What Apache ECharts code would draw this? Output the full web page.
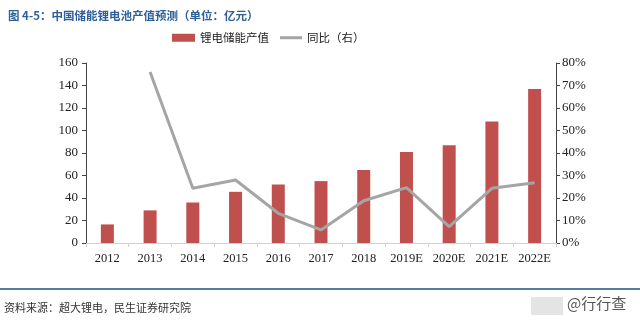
<!DOCTYPE html>
<html><head><meta charset="utf-8">
<script src="https://cdn.jsdelivr.net/npm/echarts@6/dist/echarts.min.js"></script>
<style>html,body{margin:0;padding:0;background:#fff}#c{width:640px;height:323px}</style>
</head><body><div id="c"></div>
<script>
const categories = ['2012','2013','2014','2015','2016','2017','2018','2019E','2020E','2021E','2022E'];
const outputValue = [16.5, 29, 36, 45.5, 52, 55, 65, 81, 87, 108, 137];
const yoyGrowth = [null, 76, 24.3, 28, 13.2, 5.8, 18.8, 24.6, 7.3, 24.3, 26.8];
const leftTicks = {min: 0, max: 160, interval: 20};
const rightTicks = {min: 0, max: 80, interval: 10};
const seriesNames = ['锂电储能产值', '同比（右）'];
const titleText = '图 4-5：中国储能锂电池产值预测（单位：亿元）';
const sourceText = '资料来源：超大锂电，民生证券研究院';

const serif = '"Liberation Serif","Times New Roman",serif';
const cjk = '"Noto Sans CJK SC",sans-serif';
const chart = echarts.init(document.getElementById('c'), null, {renderer: 'canvas'});
chart.setOption({
  animation: false,
  backgroundColor: '#fff',
  title: {
    text: titleText, left: 3, top: 5,
    textStyle: {fontFamily: cjk, fontSize: 11.5, fontWeight: 'bold', color: '#2e5f9a'}
  },
  legend: [
    {
      top: 27, left: 167, itemWidth: 23, itemHeight: 8, itemGap: 4,
      textStyle: {fontFamily: cjk, fontSize: 11.5, color: '#222'},
      data: [{name: seriesNames[0], icon: 'rect'}]
    },
    {
      top: 27, left: 275, itemWidth: 22, itemHeight: 3, itemGap: 4,
      textStyle: {fontFamily: cjk, fontSize: 11.5, color: '#222'},
      data: [{name: seriesNames[1], icon: 'rect', itemStyle: {color: '#a5a5a5'}}]
    }
  ],
  grid: {left: 86, right: 84, top: 63, bottom: 80, containLabel: false},
  xAxis: {
    type: 'category', data: categories, boundaryGap: true,
    axisLine: {lineStyle: {color: '#d0d0d0', width: 1}},
    axisTick: {show: true, lineStyle: {color: '#d0d0d0'}, length: 4},
    axisLabel: {fontFamily: serif, fontSize: 12.5, color: '#222', margin: 9, interval: 0}
  },
  yAxis: [
    {
      type: 'value', min: leftTicks.min, max: leftTicks.max, interval: leftTicks.interval,
      axisLine: {show: true, lineStyle: {color: '#444', width: 1}},
      axisTick: {show: true, length: 4, lineStyle: {color: '#444'}},
      splitLine: {show: false},
      axisLabel: {fontFamily: serif, fontSize: 13, color: '#222', margin: 8}
    },
    {
      type: 'value', min: rightTicks.min, max: rightTicks.max, interval: rightTicks.interval,
      position: 'right',
      axisLine: {show: true, lineStyle: {color: '#444', width: 1}},
      axisTick: {show: true, length: 4, lineStyle: {color: '#444'}},
      splitLine: {show: false},
      axisLabel: {fontFamily: serif, fontSize: 13, color: '#222', margin: 6, formatter: '{value}%'}
    }
  ],
  series: [
    {
      name: seriesNames[0], type: 'bar', data: outputValue, barWidth: 13,
      itemStyle: {color: '#c0504d'}
    },
    {
      name: seriesNames[1], type: 'line', yAxisIndex: 1, data: yoyGrowth,
      symbol: 'none', lineStyle: {color: '#a5a5a5', width: 3},
      itemStyle: {color: '#a5a5a5'}
    }
  ],
  graphic: [
    {type: 'line', shape: {x1: 0, y1: 289, x2: 640, y2: 289}, style: {stroke: '#1f4e79', lineWidth: 1.5}},
    {type: 'text', left: 4, top: 302, style: {text: sourceText, font: '11px ' + cjk, fill: '#333'}},
    {type: 'rect', shape: {x: 531, y: 297, width: 32, height: 18}, style: {fill: '#e4e4e4'}},
    {type: 'text', left: 567, top: 296, style: {text: '@行行查', font: '15px ' + cjk, fill: '#555'}}
  ]
});
</script></body></html>
